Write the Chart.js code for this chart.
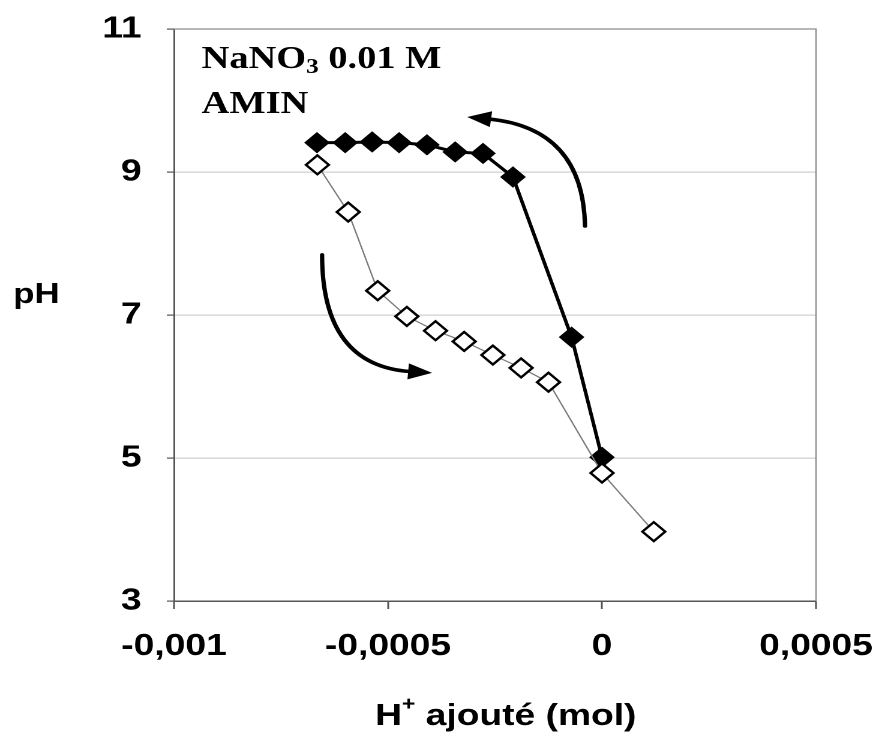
<!DOCTYPE html>
<html lang="fr">
<head>
  <meta charset="UTF-8" />
  <title>pH - H+ ajouté</title>
  <script src="https://cdn.jsdelivr.net/npm/chart.js"></script>
  <style>
    html, body { margin: 0; padding: 0; background: #fff; overflow: hidden; }
    /* the original figure is stretched horizontally, so we stretch ours too */
    .wrap { width: 730px; height: 734px; transform: scaleX(1.2); transform-origin: 0 0; }
  </style>
</head>
<body>
  <div class="wrap"><canvas id="phChart"></canvas></div>

  <script>
    const xTicks = [-0.001, -0.0005, 0, 0.0005];
    const xTickLabels = ["-0,001", "-0,0005", "0", "0,0005"];
    const yTicks = [3, 5, 7, 9, 11];

    // open diamonds (thin grey line)
    const openX  = [-0.000665, -0.000593, -0.000524, -0.000456, -0.000389, -0.000322, -0.000255, -0.000189, -0.000125, 0.0, 0.000121];
    const openPH = [9.10, 8.44, 7.34, 6.98, 6.78, 6.63, 6.44, 6.26, 6.06, 4.79, 3.97];

    // filled diamonds (thick black line)
    const filledX  = [-0.000666, -0.000600, -0.000537, -0.000474, -0.000409, -0.000343, -0.000278, -0.000208, -0.000071, 0.0];
    const filledPH = [9.41, 9.41, 9.42, 9.41, 9.38, 9.28, 9.26, 8.93, 6.69, 5.01];

    // curved arrows: start, control, tip (data units)
    const arrowUp   = [[-0.0000397, 8.245], [-0.0000444, 9.615], [-0.000315, 9.77]];
    const arrowDown = [[-0.000654, 7.84], [-0.000654, 6.29], [-0.000397, 6.19]];

    const sans = '"Liberation Sans", Arial, sans-serif';
    const serif = '"Liberation Serif", "Times New Roman", serif';

    function drawArrow(ctx, xs, ys, pts) {
      const p = pts.map(([a, b]) => [xs.getPixelForValue(a), ys.getPixelForValue(b)]);
      const [p0, p1, tip] = p;
      let dx = tip[0] - p1[0], dy = tip[1] - p1[1];
      const d = Math.hypot(dx, dy); dx /= d; dy /= d;
      const len = 20, half = 8;
      const base = [tip[0] - dx * len, tip[1] - dy * len];
      ctx.beginPath();
      ctx.moveTo(p0[0], p0[1]);
      ctx.quadraticCurveTo(p1[0], p1[1], base[0] + dx * 2, base[1] + dy * 2);
      ctx.stroke();
      ctx.beginPath();
      ctx.moveTo(tip[0], tip[1]);
      ctx.lineTo(base[0] - dy * half, base[1] + dx * half);
      ctx.lineTo(base[0] + dy * half, base[1] - dx * half);
      ctx.closePath();
      ctx.fill();
    }

    const decorations = {
      id: "decorations",
      beforeDatasetsDraw(chart) {
        const { ctx, chartArea: a } = chart;
        ctx.save();
        ctx.strokeStyle = "#8c8c8c";
        ctx.lineWidth = 1.2;
        ctx.beginPath();
        ctx.moveTo(a.left, a.top);
        ctx.lineTo(a.right, a.top);
        ctx.lineTo(a.right, a.bottom);
        ctx.stroke();
        ctx.restore();
      },
      afterDraw(chart) {
        const { ctx, chartArea: a, scales: { x, y } } = chart;
        ctx.save();
        ctx.fillStyle = "#000";
        ctx.textBaseline = "alphabetic";
        ctx.textAlign = "left";

        // y title, horizontal
        ctx.font = "bold 29px " + sans;
        ctx.fillText("pH", 11, 303);

        // x title with superscript +
        const big = "bold 31px " + sans, small = "bold 19px " + sans;
        ctx.font = big;
        const wH = ctx.measureText("H").width;
        const wRest = ctx.measureText(" ajouté (mol)").width;
        ctx.font = small;
        const wPlus = ctx.measureText("+").width;
        let tx = (a.left + a.right) / 2 + 9 - (wH + wPlus + wRest) / 2;
        ctx.font = big;
        ctx.fillText("H", tx, 725); tx += wH;
        ctx.font = small;
        ctx.fillText("+", tx, 710); tx += wPlus;
        ctx.font = big;
        ctx.fillText(" ajouté (mol)", tx, 725);

        // label box
        const tb = "bold 32px " + serif, ts = "bold 21px " + serif;
        let lx = 168;
        ctx.font = tb;
        ctx.fillText("NaNO", lx, 68); lx += ctx.measureText("NaNO").width;
        ctx.font = ts;
        ctx.fillText("3", lx, 73); lx += ctx.measureText("3").width;
        ctx.font = tb;
        ctx.fillText(" 0.01 M", lx, 68);
        ctx.fillText("AMIN", 168, 113);

        // arrows
        ctx.strokeStyle = "#000";
        ctx.lineWidth = 3.6;
        ctx.lineCap = "round";
        drawArrow(ctx, x, y, arrowUp);
        drawArrow(ctx, x, y, arrowDown);
        ctx.restore();
      }
    };

    const tickFont = { family: sans, size: 31, weight: "bold" };

    new Chart(document.getElementById("phChart"), {
      type: "scatter",
      data: {
        datasets: [
          {
            label: "open",
            data: openX.map((v, i) => ({ x: v, y: openPH[i] })),
            showLine: true,
            borderColor: "#7a7a7a",
            borderWidth: 1.2,
            pointStyle: "rectRot",
            pointRadius: 9.5,
            pointBackgroundColor: "#fff",
            pointBorderColor: "#000",
            pointBorderWidth: 2.2
          },
          {
            label: "filled",
            data: filledX.map((v, i) => ({ x: v, y: filledPH[i] })),
            showLine: true,
            borderColor: "#000",
            borderWidth: 3,
            pointStyle: "rectRot",
            pointRadius: 10,
            pointBackgroundColor: "#000",
            pointBorderColor: "#000",
            pointBorderWidth: 1
          }
        ]
      },
      options: {
        responsive: true,
        maintainAspectRatio: false,
        devicePixelRatio: 2,
        animation: false,
        layout: { padding: { top: 29, right: 50, bottom: 0, left: 0 } },
        plugins: { legend: { display: false }, tooltip: { enabled: false } },
        scales: {
          x: {
            type: "linear",
            min: -0.001,
            max: 0.0005,
            afterBuildTicks: s => { s.ticks = xTicks.map(v => ({ value: v })); },
            afterFit: s => { s.height = 133; s.paddingLeft = 0; s.paddingRight = 0; },
            ticks: {
              callback: (v, i) => xTickLabels[i],
              font: tickFont,
              color: "#000",
              padding: 19,
              maxRotation: 0,
              autoSkip: false
            },
            grid: { drawOnChartArea: false, tickLength: 8, tickColor: "#555", tickWidth: 1.5 },
            border: { color: "#555", width: 1.5 }
          },
          y: {
            min: 3,
            max: 11,
            afterBuildTicks: s => { s.ticks = yTicks.map(v => ({ value: v })); },
            afterFit: s => { s.width = 145; s.paddingTop = 0; s.paddingBottom = 0; },
            ticks: {
              callback: (v, i) => String(yTicks[i]),
              font: tickFont,
              color: "#000",
              padding: 21
            },
            grid: {
              color: c => (c.tick && (c.tick.value === 3 || c.tick.value === 11)) ? "rgba(0,0,0,0)" : "#cfcfcf",
              lineWidth: 1.2,
              tickLength: 6,
              tickColor: "#555"
            },
            border: { color: "#555", width: 1.5 }
          }
        }
      },
      plugins: [decorations]
    });
  </script>
</body>
</html>
